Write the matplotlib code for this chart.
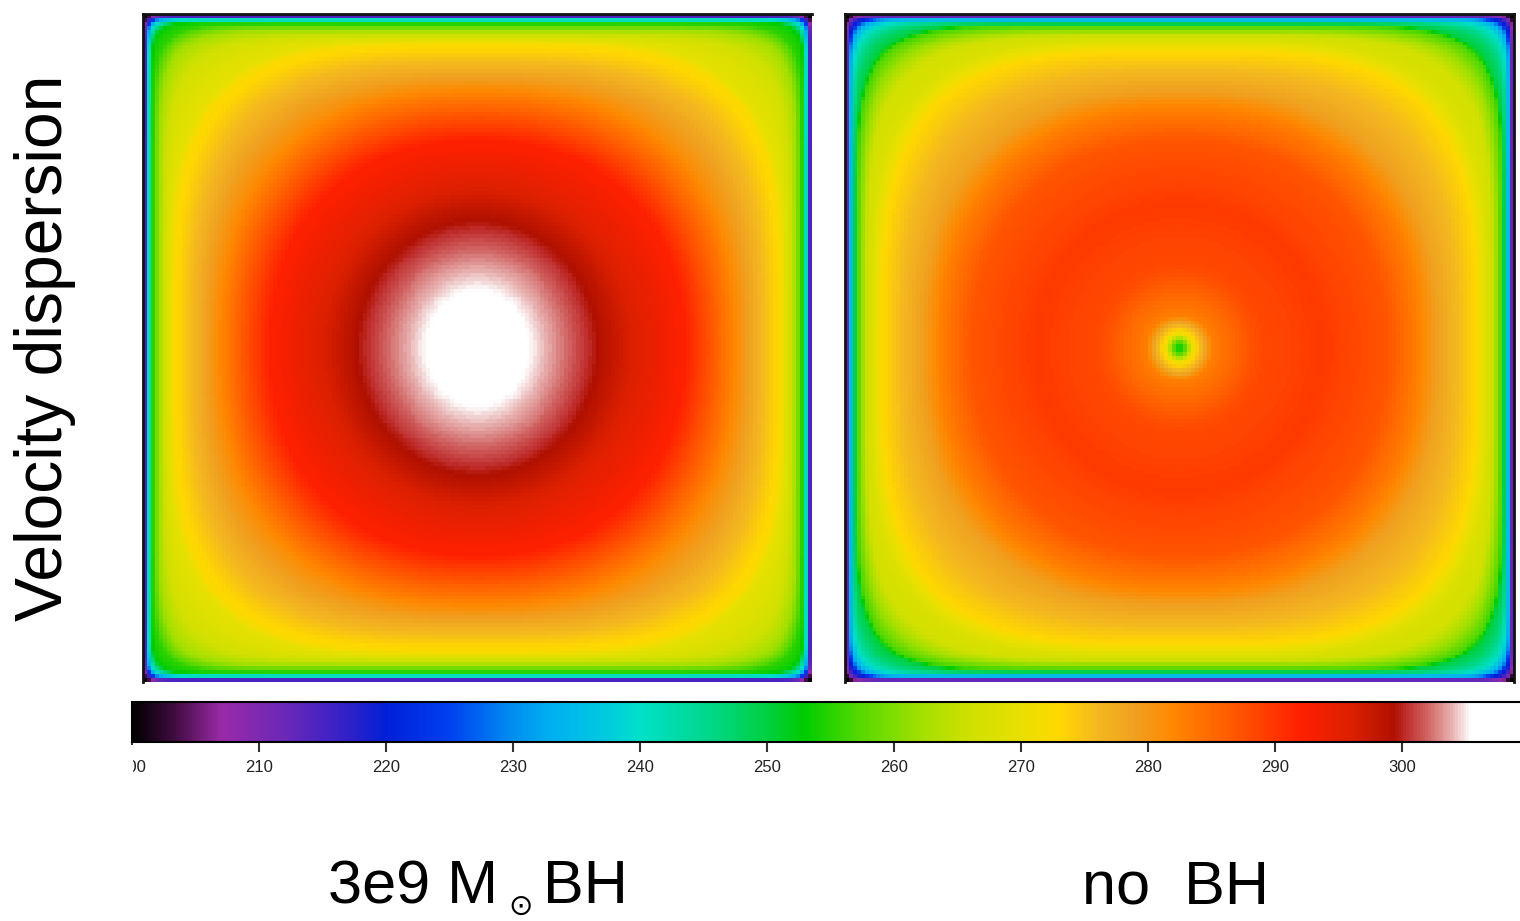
import numpy as np
import matplotlib
matplotlib.use("Agg")
import matplotlib.pyplot as plt
from matplotlib.colors import LinearSegmentedColormap, Normalize
from matplotlib.cm import ScalarMappable
from matplotlib.patches import Rectangle

# ---- colour table (km/s -> colour) ----
cmap_vals = [200, 203, 207, 212, 217, 220, 225, 230, 233, 237, 240, 245, 250, 253,
             257, 262, 266, 270, 273, 276, 279, 282, 286, 289, 292, 296, 299.5,
             300.5, 302, 304, 305.5, 310]
cmap_cols = ["#000000", "#3a0a3a", "#9a2aa8", "#6a28b8", "#3020c8", "#0020d8", "#0040f0",
             "#0090f0", "#00b0f0", "#00c8e0", "#00e0c8", "#00d890", "#00d040", "#00cc00",
             "#50d800", "#a0e000", "#d0e000", "#e8e000", "#ffd800", "#f4b820", "#f0a020",
             "#ff8800", "#ff6000", "#ff4000", "#ff2000", "#dc2000", "#b01000",
             "#c03030", "#d06060", "#e8b0b0", "#ffffff", "#ffffff"]
VMIN, VMAX = 200, 310
cbar_ticks = [200, 210, 220, 230, 240, 250, 260, 270, 280, 290, 300]

# ---- radial profiles along the mid line (r = 1 at the box edge) ----
left_r = [0, 0.08, 0.13, 0.22, 0.34, 0.46, 0.62, 0.71, 0.77, 0.835, 0.91, 0.952,
          0.976, 0.988, 1.0, 1.5]
left_sigma = [315, 310, 306, 303.5, 300, 296, 292, 286, 282, 277, 272, 262,
              253, 230, 200, 190]

right_r = [0, 0.02, 0.045, 0.10, 0.24, 0.43, 0.62, 0.71, 0.77, 0.885, 0.935,
           0.965, 0.985, 1.0, 1.5]
right_sigma = [252, 258, 272, 283, 288, 289.5, 287, 283, 279, 273, 266,
               256, 232, 200, 190]

# squareness of the iso-contours (superellipse exponent vs radius)
p_r = [0, 0.5, 0.78, 0.92, 0.97, 0.99, 1.0, 1.5]
left_p = [2, 2.0, 2.5, 4.0, 14, 50, 80, 80]
right_p = [2, 2.0, 2.5, 3.8, 8, 30, 80, 80]

# vertical squeeze of the inner contours (left map core is a tall oval)
q_r = [0, 0.15, 0.35, 0.55]
left_q = [0.85, 0.87, 0.93, 1.0]
right_q = [1.0, 1.0, 1.0, 1.0]

NPIX = 170


def sigma_map(prof_r, prof_s, p_knots, q_knots):
    c = (np.arange(NPIX) + 0.5) / NPIX * 2 - 1
    x, y = np.meshgrid(np.abs(c), np.abs(c))
    y = y * np.interp(np.hypot(x, y), q_r, q_knots)
    lo = np.zeros_like(x)
    hi = np.full_like(x, 1.5)
    for _ in range(40):
        mid = 0.5 * (lo + hi)
        p = np.interp(mid, p_r, p_knots)
        nrm = (x ** p + y ** p) ** (1.0 / p)
        big = nrm > mid
        lo = np.where(big, mid, lo)
        hi = np.where(big, hi, mid)
    r = 0.5 * (lo + hi)
    return np.interp(r, prof_r, prof_s)


cmap = LinearSegmentedColormap.from_list(
    "vdisp", [((v - VMIN) / (VMAX - VMIN), c) for v, c in zip(cmap_vals, cmap_cols)], N=512)
norm = Normalize(VMIN, VMAX)

W, H = 1520, 921
fig = plt.figure(figsize=(W / 100, H / 100), dpi=100)


def px_axes(x0, y0, x1, y1):
    return fig.add_axes([x0 / W, 1 - y1 / H, (x1 - x0) / W, (y1 - y0) / H])


ax_l = px_axes(143, 14, 812, 682)
ax_r = px_axes(845, 14, 1514, 682)

for ax, rr, ss, pp, qq, sp in [
        (ax_l, left_r, left_sigma, left_p, left_q, ("top", "left")),
        (ax_r, right_r, right_sigma, right_p, right_q, ("top", "left", "right"))]:
    ax.imshow(sigma_map(rr, ss, pp, qq), cmap=cmap, norm=norm, origin="lower",
              extent=[-1, 1, -1, 1], interpolation="nearest", aspect="auto")
    ax.set_xticks([])
    ax.set_yticks([])
    for name, spine in ax.spines.items():
        spine.set_visible(name in sp)
        spine.set_linewidth(2)
        spine.set_color("#111111")

# colour bar (extends past the right edge, like the cropped original)
cax = px_axes(132, 702, 132 + 1397, 742)
cb = fig.colorbar(ScalarMappable(norm=norm, cmap=cmap), cax=cax, orientation="horizontal")
cb.set_ticks(cbar_ticks)
cb.outline.set_linewidth(1.5)
cax.tick_params(axis="x", length=7, width=1.5, color="#333333", pad=6,
                labelsize=12, labelcolor="#222222")
for lab in cax.get_xticklabels():
    lab.set_fontfamily("Liberation Sans")
    lab.set_fontsize(12)

# the original is cut just left of the colour bar
fig.add_artist(Rectangle((0, 1 - 790 / H), 133 / W, 45 / H, transform=fig.transFigure,
                         facecolor="white", edgecolor="none", zorder=10))

font = ["Liberation Sans", "DejaVu Sans"]
fig.text(45 / W, 1 - 348 / H, "Velocity dispersion", rotation=90, ha="center", va="center",
         fontsize=47.5, family=font)
fig.text(498 / W, 1 - 903 / H, "3e9 M", ha="right", va="baseline",
         fontsize=44, family=font)
fig.text(521 / W, 1 - 907 / H, "\u2299", ha="center", va="center",
         fontsize=21, family=["DejaVu Sans"])
fig.text(543 / W, 1 - 903 / H, "BH", ha="left", va="baseline",
         fontsize=44, family=font)
fig.text(1175 / W, 1 - 903 / H, "no  BH", ha="center", va="baseline",
         fontsize=44, family=font)

fig.savefig("out.png", dpi=100)
